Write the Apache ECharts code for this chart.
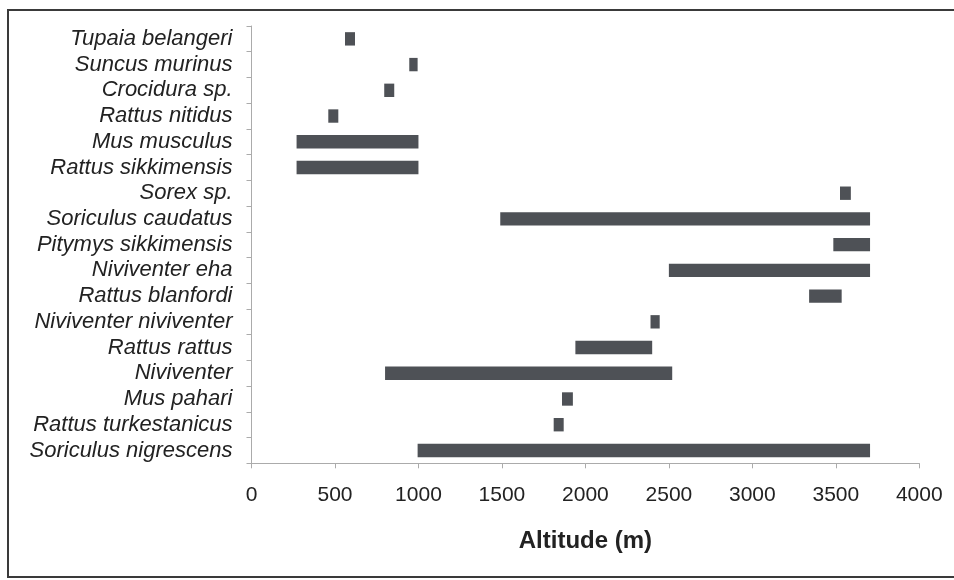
<!DOCTYPE html>
<html>
<head>
<meta charset="utf-8">
<script src="https://cdn.jsdelivr.net/npm/echarts@6/dist/echarts.min.js"></script>
<style>
  html, body { margin: 0; padding: 0; background: #ffffff; }
  #chart { width: 954px; height: 580px; }
</style>
</head>
<body>
<div id="chart"></div>
<script>
// Altitudinal ranges of small mammal species (metres)
const species = [
  'Tupaia belangeri', 'Suncus murinus', 'Crocidura sp.', 'Rattus nitidus',
  'Mus musculus', 'Rattus sikkimensis', 'Sorex sp.', 'Soriculus caudatus',
  'Pitymys sikkimensis', 'Niviventer eha', 'Rattus blanfordi',
  'Niviventer niviventer', 'Rattus rattus', 'Niviventer', 'Mus pahari',
  'Rattus turkestanicus', 'Soriculus nigrescens'
];
const minAltitude = [560, 945, 795, 460, 270, 270, 3525, 1490, 3485, 2500, 3340, 2390, 1940, 800, 1860, 1810, 995];
const maxAltitude = [620, 995, 855, 520, 1000, 1000, 3590, 3705, 3705, 3705, 3535, 2445, 2400, 2520, 1925, 1870, 3705];
const altitudeTicks = [0, 500, 1000, 1500, 2000, 2500, 3000, 3500, 4000];

const rangeData = species.map((s, i) => [i, minAltitude[i], maxAltitude[i]]);

const chart = echarts.init(document.getElementById('chart'), null, { renderer: 'canvas' });

const textFont = "'Liberation Sans', Arial, sans-serif";

chart.setOption({
  animation: false,
  backgroundColor: '#ffffff',
  graphic: [{
    // frame around the figure: left, top and bottom edges
    type: 'polyline',
    shape: { points: [[960, 10], [8, 10], [8, 577], [960, 577]] },
    style: { fill: 'none', stroke: '#3a3a3a', lineWidth: 2 },
    silent: true
  }],
  grid: { left: 251.5, right: 34.7, top: 26, bottom: 116.7, containLabel: false },
  xAxis: {
    type: 'value',
    min: altitudeTicks[0],
    max: altitudeTicks[altitudeTicks.length - 1],
    interval: altitudeTicks[1] - altitudeTicks[0],
    name: 'Altitude (m)',
    nameLocation: 'middle',
    nameGap: 66,
    nameTextStyle: { fontFamily: textFont, fontSize: 24, fontWeight: 'bold', color: '#222222' },
    axisLine: { show: true, lineStyle: { color: '#ababab', width: 1 } },
    axisTick: { show: true, length: 5, lineStyle: { color: '#ababab' } },
    axisLabel: {
      margin: 21, fontFamily: textFont, fontSize: 21, color: '#222222',
      formatter: function (v) { return String(v); }
    },
    splitLine: { show: false }
  },
  yAxis: {
    type: 'category',
    data: species,
    inverse: true,
    axisLine: { show: true, lineStyle: { color: '#ababab', width: 1 } },
    axisTick: { show: true, length: 5, interval: 0, lineStyle: { color: '#ababab' } },
    axisLabel: { interval: 0, margin: 19, fontFamily: textFont, fontSize: 22, fontStyle: 'italic', color: '#222222' },
    splitLine: { show: false }
  },
  series: [{
    type: 'custom',
    name: 'Altitudinal range',
    data: rangeData,
    encode: { x: [1, 2], y: 0 },
    renderItem: function (params, api) {
      const row = api.value(0);
      const start = api.coord([api.value(1), row]);
      const end = api.coord([api.value(2), row]);
      const h = api.size([0, 1])[1] * 0.52;
      return {
        type: 'rect',
        shape: { x: start[0], y: start[1] - h / 2, width: end[0] - start[0], height: h },
        style: { fill: '#4e5156' }
      };
    }
  }]
});
</script>
</body>
</html>
